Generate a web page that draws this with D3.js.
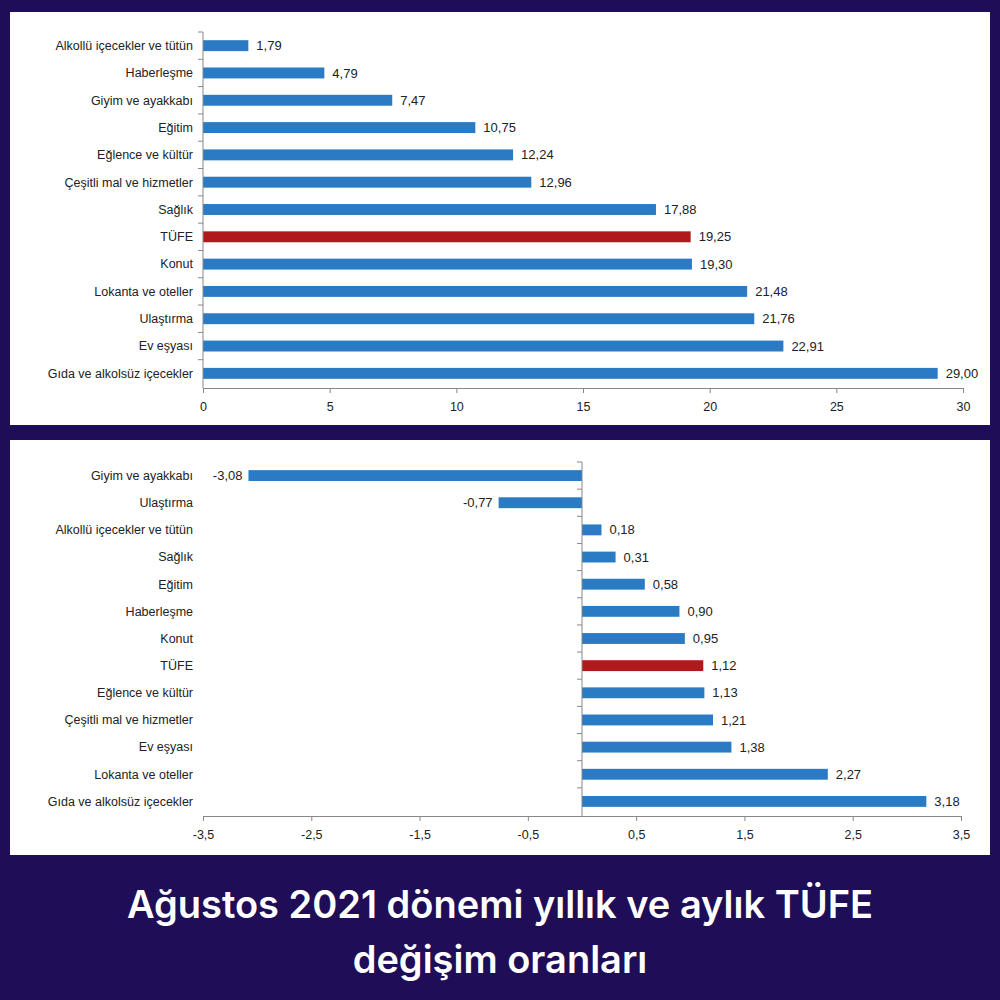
<!DOCTYPE html>
<html><head><meta charset="utf-8">
<script src="https://cdn.jsdelivr.net/npm/d3@7"></script>
<style>body{margin:0;background:#1f0d57}svg{display:block}</style>
</head><body>
<svg id="c" width="1000" height="1000"></svg>
<script>
// yearly change (top chart)
const yearCats = ["Alkollü içecekler ve tütün","Haberleşme","Giyim ve ayakkabı","Eğitim","Eğlence ve kültür","Çeşitli mal ve hizmetler","Sağlık","TÜFE","Konut","Lokanta ve oteller","Ulaştırma","Ev eşyası","Gıda ve alkolsüz içecekler"]
const yearVals = [1.79,4.79,7.47,10.75,12.24,12.96,17.88,19.25,19.30,21.48,21.76,22.91,29.00]
const yearTicks = [0,5,10,15,20,25,30]
// monthly change (bottom chart)
const monthCats = ["Giyim ve ayakkabı","Ulaştırma","Alkollü içecekler ve tütün","Sağlık","Eğitim","Haberleşme","Konut","TÜFE","Eğlence ve kültür","Çeşitli mal ve hizmetler","Ev eşyası","Lokanta ve oteller","Gıda ve alkolsüz içecekler"]
const monthVals = [-3.08,-0.77,0.18,0.31,0.58,0.90,0.95,1.12,1.13,1.21,1.38,2.27,3.18]
const monthTicks = [-3.5,-2.5,-1.5,-0.5,0.5,1.5,2.5,3.5]

const svg = d3.select("#c")
const fmt = v => v.toFixed(2).replace(".", ",")
const tickFmt = v => String(v).replace(".", ",")
const font = "Liberation Sans, Arial, sans-serif"

svg.append("rect").attr("x",10).attr("y",12).attr("width",980).attr("height",413).attr("fill","#fff")
svg.append("rect").attr("x",10).attr("y",440).attr("width",980).attr("height",415).attr("fill","#fff")

function chart(cats, vals, ticks, dom, xr, y0, y1, axisY) {
  const x = d3.scaleLinear().domain(dom).range(xr)
  const y = d3.scaleBand().domain(cats).range([y0, y1]).paddingInner(0.6).paddingOuter(0.3)
  const g = svg.append("g")
  const zx = x(0)
  g.selectAll("rect.b").data(cats).join("rect")
    .attr("x", (d,i) => Math.min(x(0), x(vals[i])))
    .attr("width", (d,i) => Math.abs(x(vals[i]) - x(0)))
    .attr("y", d => y(d)).attr("height", y.bandwidth())
    .attr("fill", d => d === "TÜFE" ? "#b01a1c" : "#2a7bc3")
  g.selectAll("text.v").data(cats).join("text")
    .attr("x", (d,i) => vals[i] < 0 ? x(vals[i]) - 6 : x(vals[i]) + 8)
    .attr("text-anchor", (d,i) => vals[i] < 0 ? "end" : "start")
    .attr("y", d => y(d) + y.bandwidth()/2).attr("dy","0.35em")
    .attr("font-family", font).attr("font-size", 13).attr("fill","#222")
    .text((d,i) => fmt(vals[i]))
  g.selectAll("text.c").data(cats).join("text")
    .attr("x", 193).attr("text-anchor","end")
    .attr("y", d => y(d) + y.bandwidth()/2).attr("dy","0.35em")
    .attr("font-family", font).attr("font-size", 12.5).attr("fill","#222")
    .text(d => d)
  // y axis line with ticks between categories
  const step = y.step()
  g.append("line").attr("x1",zx).attr("x2",zx).attr("y1",y0).attr("y2",axisY).attr("stroke","#888")
  d3.range(cats.length).forEach(i => {
    const yy = y(cats[i]) - (step - y.bandwidth())/2
    g.append("line").attr("x1",zx-5).attr("x2",zx).attr("y1",yy).attr("y2",yy).attr("stroke","#888")
  })
  const ax = g.append("g").attr("transform",`translate(0,${axisY})`)
    .call(d3.axisBottom(x).tickValues(ticks).tickFormat(tickFmt).tickSize(5).tickSizeOuter(0))
  ax.select(".domain").attr("stroke","#888")
  ax.selectAll(".tick line").attr("stroke","#888")
  ax.selectAll("text").attr("font-family",font).attr("font-size",12.5).attr("fill","#222").attr("dy","1.2em")
}

chart(yearCats, yearVals, yearTicks, [0,30], [203,963], 32, 387, 388)
chart(monthCats, monthVals, monthTicks, [-3.5,3.5], [203,961], 462, 815, 816)

const tt = svg.append("text").attr("text-anchor","middle").attr("fill","#fff")
  .attr("font-family","Inter, Lato, sans-serif").attr("font-weight",600).attr("font-size",38)
tt.append("tspan").attr("x",500).attr("y",918).text("Ağustos 2021 dönemi yıllık ve aylık TÜFE")
tt.append("tspan").attr("x",500).attr("y",973).text("değişim oranları")
</script>
</body></html>
